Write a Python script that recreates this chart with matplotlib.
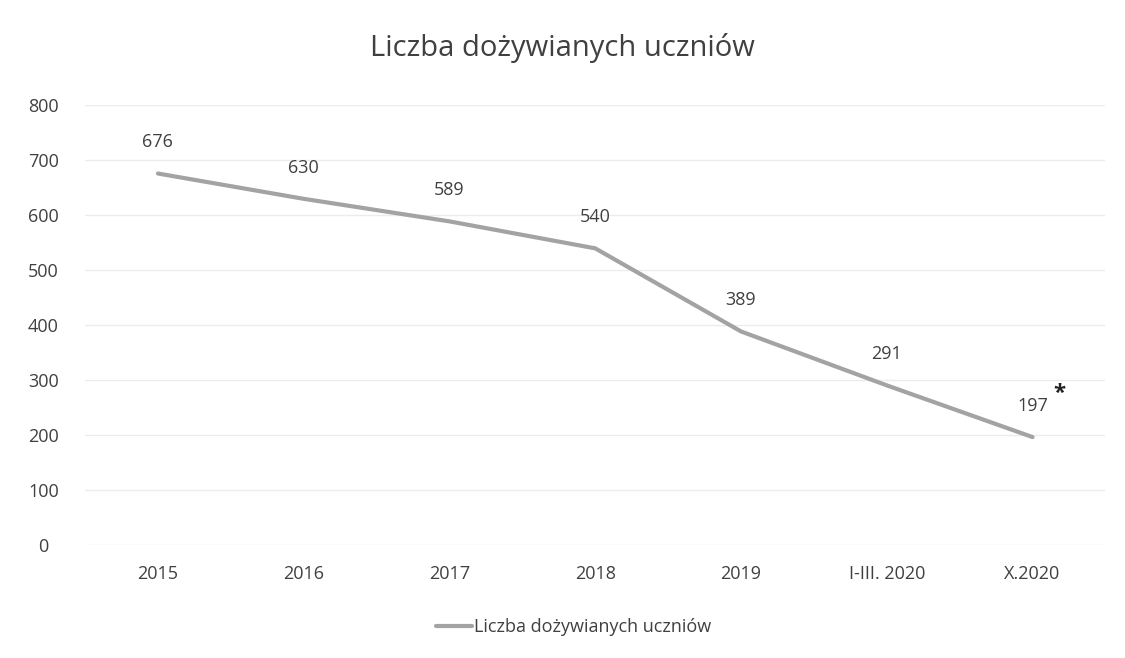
import matplotlib.pyplot as plt
import numpy as np

categories = ['2015', '2016', '2017', '2018', '2019', 'I-III. 2020', 'X.2020']
values = [676, 630, 589, 540, 389, 291, 197]
label_notes = ['', '', '', '', '', '', ' *']
series_name = 'Liczba dożywianych uczniów'

plt.rcParams['font.family'] = ['Open Sans', 'DejaVu Sans']
text_color = '#404040'

fig = plt.figure(figsize=(11.25, 6.58), dpi=100)
ax = fig.add_axes([0.0756, 0.171, 0.907, 0.669])

x = np.arange(len(categories))
ax.plot(x, values, color='#a3a3a3', linewidth=3, label=series_name,
        solid_capstyle='round')

for xi, v, note in zip(x, values, label_notes):
    ax.annotate(str(v), (xi, v), xytext=(0, 16), textcoords='offset points',
                ha='center', va='bottom', fontsize=13, color=text_color)
    if note:
        ax.annotate('*', (xi, v), xytext=(19, 24), textcoords='offset points',
                    ha='center', va='bottom', fontsize=16, fontweight='bold',
                    color='#222222')

ax.set_xlim(-0.5, len(categories) - 0.5)
ax.set_ylim(0, 800)
ax.set_yticks(range(0, 801, 100))
ax.set_xticks(x)
ax.set_xticklabels(categories)
ax.tick_params(axis='both', length=0, labelsize=13, labelcolor=text_color)
ax.tick_params(axis='x', pad=14)
ax.tick_params(axis='y', pad=30)
for lab in ax.get_yticklabels():
    lab.set_horizontalalignment('center')

ax.grid(axis='y', color='#ececec', linewidth=1)
ax.set_axisbelow(True)
for s in ax.spines.values():
    s.set_visible(False)

fig.suptitle(series_name, y=0.95, fontsize=21, color=text_color)

fig.legend(loc='center', bbox_to_anchor=(0.51, 0.047), frameon=False,
           fontsize=13, handlelength=2.0, handletextpad=0.1,
           labelcolor=text_color)

fig.savefig('out.png', dpi=100, facecolor='white')
